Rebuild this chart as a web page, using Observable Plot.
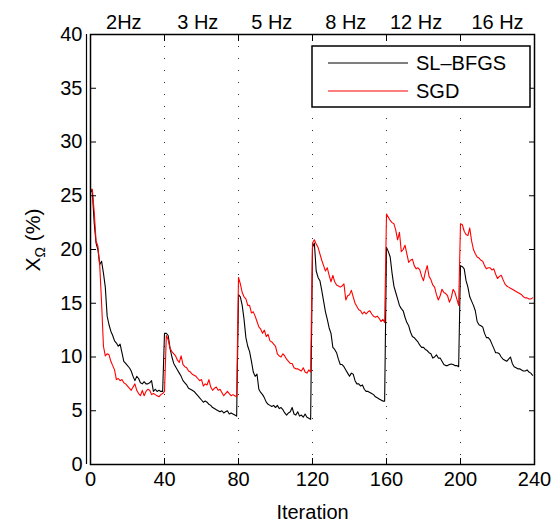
<!DOCTYPE html>
<html><head><meta charset="utf-8">
<script src="https://cdn.jsdelivr.net/npm/d3@7"></script>
<script src="https://cdn.jsdelivr.net/npm/@observablehq/plot@0.6"></script>
<style>body{margin:0;background:#fff}</style>
</head><body><div id="chart"></div>
<script>
const seriesNames = ["SL\u2013BFGS", "SGD"];
const seriesColors = ["#000000", "#ff0000"];
const slbfgs = [
 25.6,25.3,22.5,20.6,20.0,18.6,18.9,17.8,16.5,13.8, 13.0,12.4,12.0,11.5,11.3,11.0,11.2,10.4,9.6,9.4,
 9.2,9.0,8.7,8.2,7.8,8.2,8.0,7.6,7.5,7.7, 7.5,7.5,7.6,7.8,6.8,7.0,6.8,6.9,6.8,6.8,
 12.2,12.2,12.0,10.8,10.0,9.4,9.1,8.8,8.5,8.2, 7.8,7.6,7.4,7.1,7.0,6.9,6.8,6.6,6.4,6.2,
 6.0,5.8,5.9,5.8,5.6,5.5,5.3,5.2,5.1,5.0, 4.9,5.0,4.8,4.9,5.0,4.7,4.8,4.7,4.6,4.5,
 15.8,15.6,14.8,13.5,11.8,11.0,10.5,9.6,8.6,8.2, 8.4,7.0,6.7,6.5,6.2,5.8,5.6,5.5,5.4,5.5,
 5.3,5.5,5.2,5.3,5.1,4.8,4.6,4.8,4.9,5.3, 4.7,4.6,4.9,4.5,4.6,4.4,4.7,4.4,4.3,4.2,
 20.2,20.6,18.0,17.4,17.1,16.2,15.2,14.2,13.5,12.7, 12.2,10.9,10.7,10.4,9.8,9.3,9.3,9.1,8.8,8.5,
 8.2,8.5,8.4,7.8,7.5,7.5,7.3,7.4,7.0,6.8, 6.8,6.7,6.6,6.5,6.3,6.2,6.1,6.0,5.9,5.9,
 20.2,19.8,19.3,17.8,16.6,16.0,15.4,14.8,14.5,14.3, 13.7,13.2,12.9,12.3,11.9,11.8,11.6,11.4,11.1,10.9,
 10.9,10.7,10.6,10.4,10.3,9.9,10.0,10.2,9.9,9.9, 9.6,9.3,9.2,9.2,9.3,9.35,9.3,9.2,9.2,9.1,
 18.5,18.4,18.2,17.1,16.5,15.6,15.2,14.8,14.3,13.3, 13.0,12.9,12.8,12.2,11.8,11.8,11.6,11.2,10.8,10.4,
 10.4,10.3,10.0,9.8,9.7,9.6,9.8,10.0,9.4,9.1, 9.0,8.9,8.9,8.8,8.7,8.7,8.8,8.6,8.5,8.3
];
const sgd = [
 25.6,25.6,23.5,20.8,20.3,18.5,15.0,11.0,10.1,10.3, 10.2,9.6,9.2,8.8,7.9,8.0,7.8,7.9,7.6,7.5,
 7.3,7.1,6.9,7.2,7.5,6.9,6.6,6.4,6.9,6.4, 6.8,7.0,6.9,6.5,6.6,6.5,6.4,6.3,6.5,6.6,
 6.8,12.0,11.6,10.8,10.5,10.3,10.1,9.7,9.5,10.1, 9.3,9.1,9.0,8.7,8.6,8.4,8.3,8.2,8.0,7.8,
 7.9,7.3,7.5,7.4,7.9,7.2,6.9,7.1,7.2,6.9, 7.0,6.7,6.4,6.6,6.8,6.6,6.4,6.5,6.4,6.3,
 17.4,16.8,16.0,15.6,15.4,14.8,14.8,14.1,14.2,13.8, 13.3,12.8,12.6,12.2,12.5,11.9,12.1,11.5,11.4,11.2,
 11.0,10.3,10.1,10.0,10.3,10.1,9.8,9.6,9.4,9.4, 9.0,8.9,8.9,8.8,8.7,9.0,8.6,8.5,8.8,8.6,
 20.6,20.9,20.5,20.2,19.6,19.0,18.5,18.0,18.3,17.6, 17.0,17.6,17.0,16.7,16.6,16.5,16.6,16.8,15.3,15.7,
 15.8,16.2,15.6,15.0,14.7,14.4,14.3,14.0,14.2,14.0, 14.2,14.3,14.0,13.8,13.7,13.8,13.6,13.3,13.5,13.2,
 23.3,23.0,22.7,22.5,22.4,21.8,20.9,21.6,19.8,20.0, 20.4,19.6,18.8,19.0,19.1,18.5,18.2,18.3,18.1,17.5,
 17.1,17.9,18.5,17.5,17.2,16.7,16.5,15.8,15.3,15.7, 16.3,16.0,15.9,15.7,15.1,15.5,16.3,16.0,15.4,14.8,
 22.4,22.3,21.7,21.4,21.3,22.0,20.8,20.0,19.6,19.3, 19.2,19.0,18.9,18.5,18.2,18.3,18.3,18.1,18.2,17.7,
 17.3,17.5,17.6,17.2,16.8,16.6,16.5,16.4,16.3,16.2, 16.1,16.0,15.9,15.8,15.6,15.5,15.5,15.4,15.4,15.5
];
const xTicks = [0, 40, 80, 120, 160, 200, 240];
const yTicks = [0, 5, 10, 15, 20, 25, 30, 35, 40];
const stageBounds = [40, 80, 120, 160, 200];
const stageLabels = ["2Hz", "3 Hz", "5 Hz", "8 Hz", "12 Hz", "16 Hz"];
const stageLabelX = [18, 58, 98, 138, 176, 220];
const xLabel = "Iteration";

const rowsB = slbfgs.map((v, i) => ({i, v}));
const rowsR = sgd.map((v, i) => ({i, v}));
const stages = stageLabels.map((t, k) => ({t, x: stageLabelX[k]}));
const font = "'Liberation Sans', Arial, Helvetica, sans-serif";
const blank = () => "";

const plot = Plot.plot({
  width: 555, height: 522,
  marginLeft: 90, marginRight: 21, marginTop: 34, marginBottom: 58,
  style: {fontFamily: font, fontSize: "20px", color: "black", background: "white"},
  x: {domain: [0, 240]},
  y: {domain: [0, 40]},
  marks: [
    Plot.ruleX(stageBounds, {stroke: "#333", strokeWidth: 1, strokeDasharray: "1,11"}),
    Plot.line(rowsB, {x: "i", y: "v", stroke: seriesColors[0], strokeWidth: 1.1}),
    Plot.line(rowsR, {x: "i", y: "v", stroke: seriesColors[1], strokeWidth: 1.1}),
    Plot.axisX({anchor: "bottom", ticks: xTicks, tickSize: 0, tickPadding: 7, label: null, fontSize: 20}),
    Plot.axisX({anchor: "bottom", ticks: xTicks, tickSize: 6, dy: -6, tickFormat: blank, label: null}),
    Plot.axisX({anchor: "top", ticks: xTicks, tickSize: 6, dy: 6, tickFormat: blank, label: null}),
    Plot.axisY({anchor: "left", ticks: yTicks, tickSize: 0, tickPadding: 8, label: null, fontSize: 20}),
    Plot.axisY({anchor: "left", ticks: yTicks, tickSize: 6, dx: 6, tickFormat: blank, label: null}),
    Plot.axisY({anchor: "right", ticks: yTicks, tickSize: 6, dx: -6, tickFormat: blank, label: null}),
    Plot.text(stages, {x: "x", text: "t", frameAnchor: "top", lineAnchor: "bottom", dy: -6, fontSize: 20}),
    Plot.text([xLabel], {frameAnchor: "bottom", lineAnchor: "bottom", dy: 54, fontSize: 20}),
    Plot.frame({stroke: "black", strokeWidth: 1.5}),
    Plot.ruleX([0], {dx: -4, stroke: "black", strokeWidth: 1.2})
  ]
});

const svg = d3.select(plot);
const yl = svg.append("text")
  .attr("transform", "translate(40,240) rotate(-90)")
  .attr("text-anchor", "middle")
  .attr("fill", "black")
  .style("font-family", font).style("font-size", "21px");
yl.append("tspan").text("X");
yl.append("tspan").attr("font-size", "14px").attr("dy", "5").text("\u03A9");
yl.append("tspan").attr("dy", "-5").text(" (%)");

const lg = svg.append("g").style("font-family", font).style("font-size", "20px");
lg.append("rect").attr("x", 312).attr("y", 46).attr("width", 218).attr("height", 61)
  .attr("fill", "white").attr("stroke", "black").attr("stroke-width", 1.5);
seriesNames.forEach((name, k) => {
  const cy = 63 + k * 28;
  lg.append("line").attr("x1", 328).attr("x2", 408).attr("y1", cy).attr("y2", cy)
    .attr("stroke", seriesColors[k]).attr("stroke-width", 1);
  lg.append("text").attr("x", 416).attr("y", cy + 7).attr("text-anchor", "start")
    .attr("fill", "black").text(name);
});

document.getElementById("chart").appendChild(plot);
</script>
</body></html>
